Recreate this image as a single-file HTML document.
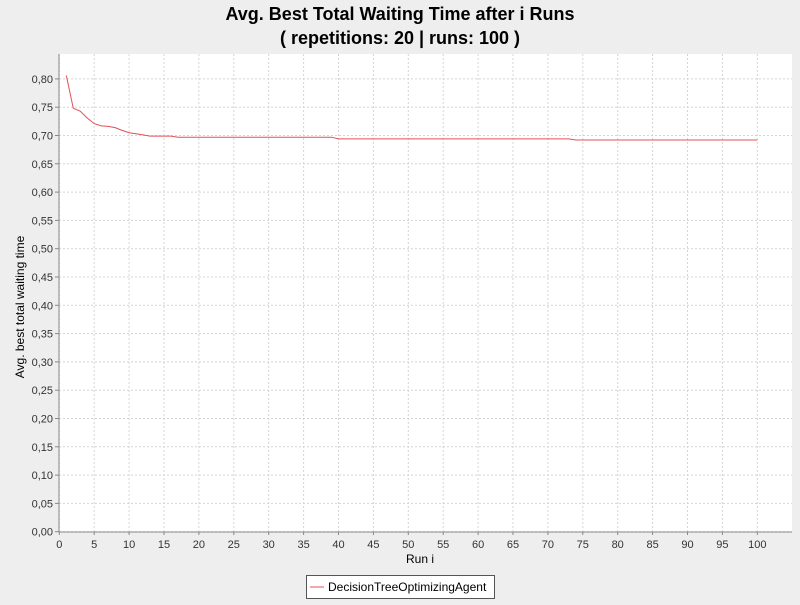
<!DOCTYPE html>
<html><head><meta charset="utf-8"><style>
body{margin:0;background:#eeeeee;font-family:"Liberation Sans",sans-serif;}
</style></head><body>
<svg width="800" height="600" xmlns="http://www.w3.org/2000/svg" font-family="Liberation Sans, sans-serif">
<rect width="800" height="600" fill="#eeeeee"/>
<text x="400" y="20" text-anchor="middle" font-size="18" font-weight="bold">Avg. Best Total Waiting Time after i Runs</text>
<text x="400" y="44" text-anchor="middle" font-size="18" font-weight="bold">( repetitions: 20 | runs: 100 )</text>
<rect x="59" y="54" width="733" height="478" fill="#ffffff"/>
<g id="grid"></g>
<g id="axes"></g>
<path id="line" fill="none" stroke="#e0505a" stroke-width="1"/>
<text x="420" y="563" text-anchor="middle" font-size="12">Run i</text>
<text transform="translate(24,307) rotate(-90)" text-anchor="middle" font-size="12">Avg. best total waiting time</text>
<g>
<rect x="306.5" y="575.5" width="188" height="23" fill="#fff" stroke="#555"/>
<line x1="310" y1="587" x2="324" y2="587" stroke="#e0505a"/>
<text x="328" y="591" font-size="12">DecisionTreeOptimizingAgent</text>
</g>
</svg>
<script>
const runs=[1,2,3,4,5,6,7,8,9,10,11,12,13,16,17,39,40,73,74,100];
const values=[0.806,0.748,0.743,0.731,0.721,0.717,0.716,0.714,0.709,0.705,0.703,0.701,0.699,0.699,0.697,0.697,0.694,0.694,0.692,0.692];
const xTicks=[0,5,10,15,20,25,30,35,40,45,50,55,60,65,70,75,80,85,90,95,100];
const yTicks=[0,0.05,0.1,0.15,0.2,0.25,0.3,0.35,0.4,0.45,0.5,0.55,0.6,0.65,0.7,0.75,0.8];
const NS="http://www.w3.org/2000/svg";
const xs=v=>59.3+v*6.98;
const ys=v=>531.7-v*566;
const grid=document.getElementById('grid'),axes=document.getElementById('axes');
function mk(p,tag,attrs,txt){const e=document.createElementNS(NS,tag);for(const k in attrs)e.setAttribute(k,attrs[k]);if(txt!==undefined)e.textContent=txt;p.appendChild(e);return e;}
xTicks.forEach(t=>{
 const g=mk(grid,'line',{x1:xs(t),x2:xs(t),y1:54,y2:532,stroke:'#d4d4d4','stroke-dasharray':'2,2'});
 
 
 mk(axes,'line',{x1:xs(t),x2:xs(t),y1:532,y2:535,stroke:'#888'});
 const l=mk(axes,'text',{x:xs(t),y:548,'text-anchor':'middle','font-size':11,fill:'#333'},String(t));
 
 
});
yTicks.forEach(t=>{
 const g=mk(grid,'line',{x1:59,x2:792,y1:ys(t),y2:ys(t),stroke:'#d4d4d4','stroke-dasharray':'2,2'});
 
 
 mk(axes,'line',{x1:55,x2:59,y1:ys(t),y2:ys(t),stroke:'#888'});
 const l=mk(axes,'text',{x:53,y:ys(t)+4,'text-anchor':'end','font-size':11,fill:'#333'},t.toFixed(2).replace('.',','));
 
 
});
mk(axes,'line',{x1:59,x2:59,y1:54,y2:532,stroke:'#888'});
mk(axes,'line',{x1:59,x2:792,y1:532,y2:532,stroke:'#888'});
document.getElementById('line').setAttribute('d',runs.map((r,i)=>(i?'L':'M')+xs(r).toFixed(1)+','+ys(values[i]).toFixed(1)).join(' '));
</script>
</body></html>
